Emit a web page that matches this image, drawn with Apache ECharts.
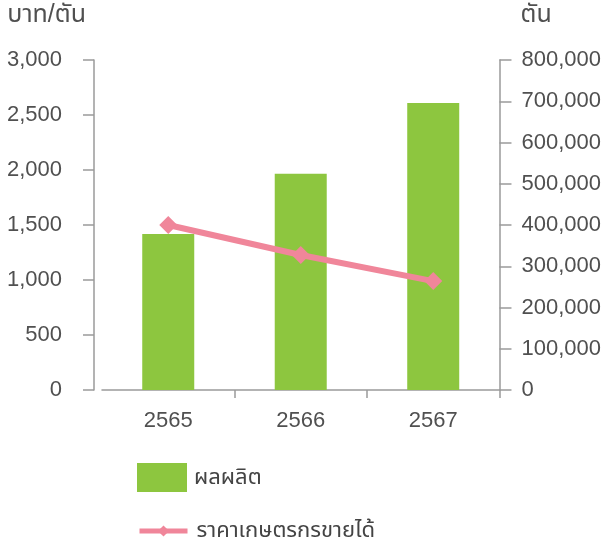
<!DOCTYPE html>
<html>
<head>
<meta charset="utf-8">
<script src="https://cdn.jsdelivr.net/npm/echarts@6/dist/echarts.min.js"></script>
<style>
  html, body { margin: 0; padding: 0; background: #fff; }
  #chart { width: 604px; height: 545px; }
</style>
</head>
<body>
<div id="chart"></div>
<script>
// Years (Buddhist era)
const years = ['2565', '2566', '2567'];
// Production, tons (right axis)
const production = [378000, 524000, 696000];
// Farm-gate price, baht per ton (left axis)
const farmPrice = [1500, 1227, 990];

const leftUnit = 'บาท/ตัน';
const rightUnit = 'ตัน';
const productionName = 'ผลผลิต';
const priceName = 'ราคาเกษตรกรขายได้';

const FONT = '"Liberation Sans", "Noto Sans Thai", "Noto Sans", sans-serif';
const labelColor = '#505050';
const axisGray = '#9a9a9a';
const barGreen = '#8dc63f';
const linePink = '#f0869a';

const fmt = v => v.toLocaleString('en-US');

const chart = echarts.init(document.getElementById('chart'));
chart.setOption({
  animation: false,
  backgroundColor: '#fff',
  grid: { left: 102, right: 103, top: 60, bottom: 155 },
  legend: [
    {
      data: [{ name: productionName, icon: 'rect' }],
      left: 132, top: 458, orient: 'vertical',
      itemWidth: 50, itemHeight: 29,
      textStyle: { fontFamily: FONT, fontSize: 22, color: '#444', padding: [8, 0, 0, 2] }
    },
    {
      data: [priceName],
      left: 132, top: 515, orient: 'vertical',
      itemWidth: 48, itemHeight: 14,
      lineStyle: { width: 5 },
      textStyle: { fontFamily: FONT, fontSize: 22, color: '#444', padding: [0, 0, 0, 4] }
    }
  ],
  xAxis: {
    type: 'category',
    data: years,
    axisLine: { lineStyle: { color: axisGray, width: 1.5 } },
    axisTick: {
      show: true, length: 8,
      interval: (idx) => idx !== 0,
      lineStyle: { color: axisGray, width: 1.5 }
    },
    axisLabel: { fontFamily: FONT, fontSize: 22, color: labelColor, margin: 20 }
  },
  yAxis: [
    {
      type: 'value',
      min: 0, max: 3000, interval: 500,
      offset: 8,
      name: leftUnit,
      nameLocation: 'end',
      nameGap: 32,
      nameTextStyle: { fontFamily: FONT, fontSize: 25, color: labelColor, align: 'right', padding: [0, 8, 0, 0] },
      axisLine: { show: true, lineStyle: { color: axisGray, width: 1.5 } },
      axisTick: { show: true, length: 11, lineStyle: { color: axisGray, width: 1.5 } },
      axisLabel: { fontFamily: FONT, fontSize: 22, color: labelColor, margin: 32, formatter: fmt },
      splitLine: { show: false }
    },
    {
      type: 'value',
      min: 0, max: 800000, interval: 100000,
      position: 'right',
      name: rightUnit,
      nameLocation: 'end',
      nameGap: 32,
      nameTextStyle: { fontFamily: FONT, fontSize: 25, color: labelColor, align: 'left', padding: [0, 0, 0, 21] },
      axisLine: { show: true, lineStyle: { color: axisGray, width: 1.5 } },
      axisTick: { show: true, length: 12, lineStyle: { color: axisGray, width: 1.5 } },
      axisLabel: { fontFamily: FONT, fontSize: 22, color: labelColor, margin: 22, formatter: fmt },
      splitLine: { show: false }
    }
  ],
  series: [
    {
      name: productionName,
      type: 'bar',
      yAxisIndex: 1,
      data: production,
      barWidth: 52,
      itemStyle: { color: barGreen }
    },
    {
      name: priceName,
      type: 'line',
      yAxisIndex: 0,
      data: farmPrice,
      symbol: 'diamond',
      symbolSize: 18,
      lineStyle: { color: linePink, width: 6 },
      itemStyle: { color: linePink }
    }
  ]
});
</script>
</body>
</html>
